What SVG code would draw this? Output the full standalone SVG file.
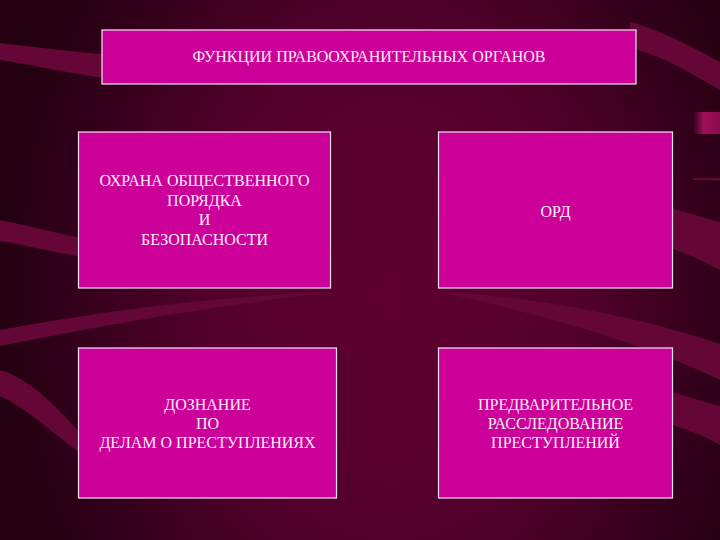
<svg xmlns="http://www.w3.org/2000/svg" width="720" height="540" viewBox="0 0 720 540">
  <defs>
    <radialGradient id="bg" gradientUnits="userSpaceOnUse" cx="390" cy="290" r="400" gradientTransform="translate(390 290) scale(1 1.35) translate(-390 -290)">
      <stop offset="0" stop-color="#5e0031"/>
      <stop offset="0.45" stop-color="#54002c"/>
      <stop offset="0.8" stop-color="#33001a"/>
      <stop offset="1" stop-color="#22000f"/>
    </radialGradient>
    <linearGradient id="spot" x1="0" y1="0" x2="1" y2="0">
      <stop offset="0" stop-color="#a0105a" stop-opacity="0"/>
      <stop offset="0.4" stop-color="#a0105a"/>
      <stop offset="1" stop-color="#8a0a4c"/>
    </linearGradient>
  </defs>
  <style>
    .stripe { fill: #640636; }
    .box { fill: #cc0099; stroke: #f2e4f0; stroke-width: 1.2; }
    .lbl { font-family: "Liberation Serif", "Times New Roman", serif; font-size: 16px; fill: #fbeefa; text-anchor: middle; }
  </style>

  <!-- background -->
  <rect x="0" y="0" width="720" height="540" fill="url(#bg)"/>

  <!-- decorative stripes -->
  <path class="stripe" d="M0,43 C40,48 80,52 120,56 L120,80 C80,76 40,66 0,60 Z"/>
  <path class="stripe" d="M0,220 C30,226 60,234 90,240 L90,258 C60,254 30,246 0,241 Z"/>
  <path class="stripe" d="M0,330 C80,316 200,296 340,292 C220,304 100,326 0,346 Z"/>
  <path class="stripe" d="M0,370 C30,378 60,410 90,444 L90,460 C60,440 30,410 0,396 Z"/>
  <path class="stripe" d="M630,22 C660,30 695,48 720,62 L720,90 C695,76 665,56 630,48 Z"/>
  <path class="stripe" d="M660,205 C685,212 705,218 720,222 L720,270 C705,262 685,252 660,245 Z"/>
  <path class="stripe" d="M440,292 C540,296 650,320 720,344 L720,380 C660,350 560,318 440,292 Z"/>
  <path class="stripe" d="M660,388 C685,396 705,402 720,406 L720,445 C705,436 685,428 660,422 Z"/>
  <rect x="693" y="112" width="27" height="22" fill="url(#spot)"/>
  <rect x="693" y="178.5" width="27" height="1.2" fill="#8a0a4c"/>

  <!-- nodes -->
  <g id="title">
    <rect class="box" x="102" y="30" width="534" height="54"/>
    <text class="lbl" x="369" y="62">ФУНКЦИИ ПРАВООХРАНИТЕЛЬНЫХ ОРГАНОВ</text>
  </g>
  <g id="ohrana">
    <rect class="box" x="78.5" y="132" width="252" height="156"/>
    <text class="lbl" x="204.5" y="186">ОХРАНА ОБЩЕСТВЕННОГО</text>
    <text class="lbl" x="204.5" y="205.5">ПОРЯДКА</text>
    <text class="lbl" x="204.5" y="225">И</text>
    <text class="lbl" x="204.5" y="244.5">БЕЗОПАСНОСТИ</text>
  </g>
  <g id="ord">
    <rect class="box" x="438.5" y="132" width="234" height="156"/>
    <text class="lbl" x="555.5" y="217">ОРД</text>
  </g>
  <g id="doznanie">
    <rect class="box" x="78.5" y="348" width="258" height="150"/>
    <text class="lbl" x="207.5" y="410">ДОЗНАНИЕ</text>
    <text class="lbl" x="207.5" y="429">ПО</text>
    <text class="lbl" x="207.5" y="448">ДЕЛАМ О ПРЕСТУПЛЕНИЯХ</text>
  </g>
  <g id="rassledovanie">
    <rect class="box" x="438.5" y="348" width="234" height="150"/>
    <text class="lbl" x="555.5" y="410">ПРЕДВАРИТЕЛЬНОЕ</text>
    <text class="lbl" x="555.5" y="429">РАССЛЕДОВАНИЕ</text>
    <text class="lbl" x="555.5" y="448">ПРЕСТУПЛЕНИЙ</text>
  </g>

  <g id="connectors"></g>
</svg>
